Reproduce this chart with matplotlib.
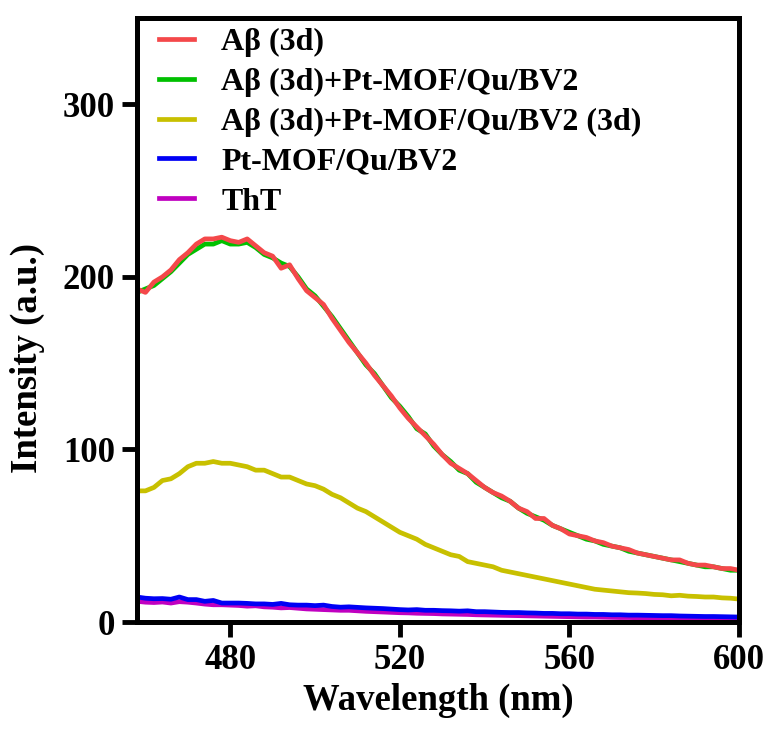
import numpy as np
import matplotlib
matplotlib.use("Agg")
import matplotlib.pyplot as plt

plt.rcParams['font.family'] = ['Liberation Serif', 'DejaVu Serif']
plt.rcParams['font.weight'] = 'bold'

wavelength = np.arange(458, 601, 2)

abeta_3d = [193, 191, 197, 200, 204, 210, 214, 219, 222, 222, 223, 221, 220, 222, 218, 214,
            212, 205, 207, 199, 192, 188, 184, 176, 169, 162, 156, 150, 143, 137, 131, 124,
            118, 113, 108, 103, 97, 92, 89, 86, 82, 78, 75, 73, 70, 66, 64, 60,
            60, 56, 54, 51, 50, 49, 47, 46, 44, 43, 42, 40, 39, 38, 37, 36,
            36, 34, 33, 33, 32, 31, 31, 30]

abeta_ptmof = [191, 193, 195, 199, 203, 208, 213, 216, 219, 219, 221, 219, 219, 220, 217, 213,
               211, 208, 206, 200, 193, 189, 183, 177, 170, 163, 156, 149, 144, 137, 130, 125,
               119, 112, 109, 102, 97, 93, 88, 86, 81, 78, 75, 72, 70, 66, 63, 61,
               59, 56, 54, 52, 50, 48, 47, 45, 44, 43, 41, 40, 39, 38, 37, 36,
               35, 34, 33, 32, 32, 31, 30, 30]

abeta_ptmof_3d = [76, 76, 78, 82, 83, 86, 90, 92, 92, 93, 92, 92, 91, 90, 88, 88,
                  86, 84, 84, 82, 80, 79, 77, 74, 72, 69, 66, 64, 61, 58, 55, 52,
                  50, 48, 45, 43, 41, 39, 38, 35, 34, 33, 32, 30, 29, 28, 27, 26,
                  25, 24, 23, 22, 21, 20, 19, 18.5, 18, 17.5, 17, 16.8, 16.5, 16, 15.8, 15.2,
                  15.5, 15, 14.8, 14.5, 14.5, 14, 13.8, 13.3]

ptmof = [14.5, 13.8, 13.5, 13.6, 13.2, 14.5, 13, 13, 12, 12.5, 11, 11, 11, 10.8, 10.5, 10.5,
         10.2, 10.8, 10, 9.8, 9.8, 9.5, 9.8, 9, 8.6, 8.8, 8.5, 8.2, 8, 7.8, 7.5, 7.2,
         7, 7.2, 6.8, 6.8, 6.6, 6.5, 6.3, 6.5, 6.0, 6.0, 5.8, 5.6, 5.5, 5.5, 5.3, 5.2,
         5.0, 5.0, 4.8, 4.8, 4.6, 4.6, 4.4, 4.4, 4.2, 4.2, 4.0, 4.0, 3.9, 3.8, 3.7, 3.7,
         3.5, 3.4, 3.3, 3.2, 3.2, 3.1, 3.0, 2.9]

tht = [12, 11.5, 11.3, 11.6, 11, 11.8, 11.5, 11, 10.4, 10, 10, 9.8, 9.6, 9.2, 9.4, 8.8,
       8.6, 8.2, 8.4, 8, 7.6, 7.4, 7.2, 7, 6.8, 6.8, 6.5, 6.2, 6.0, 5.8, 5.6, 5.4,
       5.3, 5.1, 5.0, 4.9, 4.7, 4.6, 4.5, 4.4, 4.2, 4.1, 4.0, 3.9, 3.8, 3.7, 3.6, 3.5,
       3.4, 3.3, 3.2, 3.1, 3.0, 2.9, 2.9, 2.8, 2.7, 2.6, 2.6, 2.5, 2.4, 2.4, 2.3, 2.3,
       2.2, 2.2, 2.1, 2.1, 2.0, 2.0, 1.9, 1.9]

labels = ['Aβ (3d)', 'Aβ (3d)+Pt-MOF/Qu/BV2', 'Aβ (3d)+Pt-MOF/Qu/BV2 (3d)', 'Pt-MOF/Qu/BV2', 'ThT']
colors = ['#F4484A', '#00C000', '#C8C000', '#0000F5', '#C000C0']
series = [abeta_3d, abeta_ptmof, abeta_ptmof_3d, ptmof, tht]
xticks = [480, 520, 560, 600]
yticks = [0, 100, 200, 300]

fig = plt.figure(figsize=(7.67, 7.35), dpi=100)
ax = fig.add_axes([0.1786, 0.1537, 0.9635 - 0.1786, 0.9755 - 0.1537])

handles = {}
for i in [4, 3, 2, 1, 0]:
    h, = ax.plot(wavelength, series[i], color=colors[i], lw=3.4, label=labels[i])
    handles[i] = h

ax.set_xlim(458, 600)
ax.set_ylim(0, 350)
ax.set_xticks(xticks)
ax.set_yticks(yticks)
ax.tick_params(axis='both', direction='out', length=11, width=3.5, labelsize=25, pad=5)
for lab in ax.get_xticklabels() + ax.get_yticklabels():
    lab.set_fontweight('bold')
for s in ax.spines.values():
    s.set_linewidth(3.6)

ax.set_xlabel('Wavelength (nm)', fontsize=26.5, fontweight='bold', labelpad=4)
ax.set_ylabel('Intensity (a.u.)', fontsize=26.5, fontweight='bold')
ax.yaxis.set_label_coords(-0.153, 0.437)

leg = ax.legend([handles[i] for i in range(5)], labels, loc='upper left',
                bbox_to_anchor=(0.013, 1.008), frameon=False,
                handlelength=1.1, handletextpad=0.85, labelspacing=0.33,
                borderaxespad=0.15, borderpad=0.3,
                prop={'weight': 'bold', 'size': 23})

fig.savefig('out.png', dpi=100)
